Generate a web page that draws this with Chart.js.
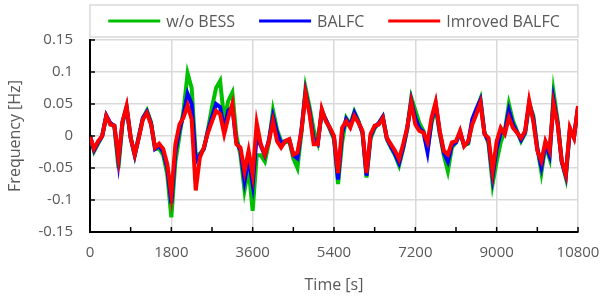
<!DOCTYPE html>
<html>
<head>
<meta charset="utf-8">
<script src="https://cdn.jsdelivr.net/npm/chart.js@4/dist/chart.umd.min.js"></script>
<style>
  html, body { margin: 0; padding: 0; background: #fff; }
  #wrap { width: 602px; height: 299px; }
</style>
</head>
<body>
<div id="wrap"><canvas id="myChart" width="602" height="299"></canvas></div>
<script>
// sampled every 90 s, 0 .. 10800 s
const step = 90;
const seriesNames = ['w/o BESS', 'BALFC', 'Imroved BALFC'];
const seriesColors = ['#00c000', '#0000ff', '#ff0000'];

const woBess = [
    0.0, -0.024, -0.012, 0.0, 0.03, 0.02, 0.014, -0.05, 0.02, 0.044,
    -0.002, -0.03, 0.0, 0.028, 0.04, 0.022, -0.02, -0.02, -0.03, -0.06,
    -0.127, -0.04, 0.0, 0.04, 0.098, 0.075, -0.03, -0.028, -0.02, 0.01,
    0.045, 0.075, 0.086, 0.025, 0.055, 0.068, 0.0, -0.03, -0.085, -0.05,
    -0.117, -0.03, -0.03, -0.04, -0.01, 0.04, 0.01, -0.008, -0.01, -0.008,
    -0.035, -0.05, 0.005, 0.075, 0.045, 0.01, -0.01, 0.036, 0.026, 0.01,
    -0.005, -0.075, -0.01, 0.028, 0.018, 0.038, 0.024, 0.004, -0.065, -0.004,
    0.012, 0.02, 0.03, -0.005, -0.018, -0.03, -0.046, -0.02, 0.01, 0.06,
    0.04, 0.02, 0.008, -0.02, 0.02, 0.045, 0.004, -0.03, -0.055, -0.018,
    -0.01, 0.004, -0.014, -0.012, 0.022, 0.04, 0.058, 0.006, -0.012, -0.075,
    -0.04, -0.01, 0.008, 0.05, 0.024, 0.008, -0.008, 0.004, 0.05, 0.032,
    -0.018, -0.057, -0.015, -0.035, 0.068, 0.024, -0.04, -0.065, 0.008, -0.002,
    0.043
];
const balfc = [
    0.0, -0.022, -0.01, 0.0, 0.032, 0.02, 0.016, -0.04, 0.022, 0.045,
    -0.003, -0.03, -0.002, 0.028, 0.038, 0.02, -0.02, -0.015, -0.025, -0.05,
    -0.105, -0.025, 0.01, 0.033, 0.066, 0.05, -0.04, -0.03, -0.02, 0.008,
    0.03, 0.05, 0.045, 0.01, 0.04, 0.045, -0.01, -0.022, -0.07, -0.035,
    -0.075, 0.0, -0.015, -0.03, -0.006, 0.03, 0.005, -0.012, -0.008, -0.006,
    -0.03, -0.035, 0.01, 0.068, 0.038, -0.005, -0.012, 0.04, 0.025, 0.012,
    -0.002, -0.068, 0.005, 0.026, 0.016, 0.036, 0.022, 0.006, -0.062, 0.0,
    0.014, 0.02, 0.03, -0.004, -0.016, -0.028, -0.042, -0.018, 0.012, 0.055,
    0.028, 0.012, 0.006, -0.025, 0.025, 0.05, 0.006, -0.026, -0.04, -0.014,
    -0.01, 0.006, -0.015, -0.01, 0.026, 0.042, 0.056, 0.004, -0.008, -0.063,
    -0.02, 0.006, 0.006, 0.04, 0.018, 0.006, -0.006, 0.006, 0.052, 0.028,
    -0.02, -0.048, -0.012, -0.03, 0.056, 0.02, -0.04, -0.062, 0.01, -0.002,
    0.045
];
const improved = [
    0.0, -0.02, -0.008, 0.0, 0.031, 0.018, 0.016, -0.035, 0.023, 0.047,
    -0.003, -0.029, -0.003, 0.026, 0.036, 0.018, -0.018, -0.012, -0.02, -0.044,
    -0.092, -0.013, 0.018, 0.029, 0.048, 0.026, -0.085, -0.034, -0.018, 0.005,
    0.023, 0.039, 0.034, 0.003, 0.029, 0.05, -0.013, -0.018, -0.055, -0.023,
    -0.06, 0.02, -0.013, -0.029, -0.008, 0.023, -0.008, -0.018, -0.008, -0.005,
    -0.029, -0.026, 0.008, 0.066, 0.034, -0.013, -0.013, 0.042, 0.023, 0.013,
    0.0, -0.058, 0.013, 0.023, 0.013, 0.031, 0.021, 0.008, -0.058, 0.003,
    0.016, 0.018, 0.028, -0.003, -0.013, -0.023, -0.036, -0.013, 0.013, 0.052,
    0.018, 0.008, 0.005, -0.01, 0.029, 0.053, 0.008, -0.023, -0.029, -0.01,
    -0.008, 0.008, -0.016, -0.008, 0.018, 0.034, 0.052, 0.003, -0.003, -0.055,
    -0.008, 0.013, 0.003, 0.029, 0.013, 0.005, -0.003, 0.008, 0.055, 0.023,
    -0.023, -0.039, -0.008, -0.023, 0.05, 0.018, -0.039, -0.06, 0.013, -0.003,
    0.047
];

const FONT = "'Open Sans', sans-serif";
const GREY = '#595959';

function toPoints(arr) {
    return arr.map((v, i) => ({ x: i * step, y: v }));
}

// frame + legend on top, like excel
const legendBox = {
    id: 'legendBox',
    afterDraw(chart) {
        const c = chart.ctx;
        const area = chart.chartArea;
        c.save();
        c.strokeStyle = '#d9d9d9';
        c.lineWidth = 1.5;
        c.strokeRect(area.left, 5, area.right - area.left, 32);

        c.font = '16px ' + FONT;
        c.textBaseline = 'middle';
        const lineLen = 52, gap = 6, space = 24;
        const ds = chart.data.datasets;
        let total = 0;
        ds.forEach((d, i) => {
            total += lineLen + gap + c.measureText(d.label).width;
            if (i < ds.length - 1) total += space;
        });
        let x = (area.left + area.right) / 2 - total / 2;
        const y = 21;
        ds.forEach(d => {
            c.strokeStyle = d.borderColor;
            c.lineWidth = 3;
            c.beginPath();
            c.moveTo(x, y);
            c.lineTo(x + lineLen, y);
            c.stroke();
            x += lineLen + gap;
            c.fillStyle = GREY;
            c.fillText(d.label, x, y + 1);
            x += c.measureText(d.label).width + space;
        });
        c.restore();
    }
};

// small tick marks inside the plot
const innerTicks = {
    id: 'innerTicks',
    afterDraw(chart) {
        const c = chart.ctx;
        const area = chart.chartArea;
        const xs = chart.scales.x, ys = chart.scales.y;
        c.save();
        c.strokeStyle = '#000';
        c.lineWidth = 1.5;
        c.beginPath();
        ys.ticks.forEach(t => {
            const py = ys.getPixelForValue(t.value);
            c.moveTo(area.left, py);
            c.lineTo(area.left + 5, py);
        });
        xs.ticks.forEach(t => {
            const px = xs.getPixelForValue(t.value);
            c.moveTo(px, area.bottom);
            c.lineTo(px, area.bottom - 5);
        });
        c.stroke();
        c.restore();
    }
};

const datasets = [woBess, balfc, improved].map((arr, i) => ({
    label: seriesNames[i],
    data: toPoints(arr),
    borderColor: seriesColors[i],
    backgroundColor: seriesColors[i],
    borderWidth: 4,
    pointRadius: 0,
    tension: 0,
    fill: false,
    order: 2 - i,
}));

const ctx = document.getElementById('myChart');
const chart = new Chart(ctx, {
    type: 'line',
    data: { datasets: datasets },
    options: {
        responsive: false,
        animation: false,
        layout: { padding: { left: 2, right: 24, top: 40, bottom: 0 } },
        plugins: {
            legend: { display: false },
            tooltip: { enabled: false },
        },
        scales: {
            x: {
                type: 'linear',
                min: 0,
                max: 10800,
                afterFit: s => {
                    s.height = 67;
                    s.paddingLeft = 0;
                    s.paddingRight = 0;
                },
                ticks: {
                    stepSize: 900,
                    autoSkip: false,
                    maxRotation: 0,
                    padding: 12,
                    color: GREY,
                    font: { family: FONT, size: 15 },
                    callback: v => (v % 1800 === 0 ? String(v) : ''),
                },
                grid: {
                    drawTicks: false,
                    lineWidth: 1.5,
                    color: c => (c.tick && c.tick.value % 1800 === 0 ? '#d9d9d9' : 'rgba(0,0,0,0)'),
                },
                border: { color: '#000', width: 2 },
                title: {
                    display: true,
                    text: 'Time [s]',
                    color: GREY,
                    font: { family: FONT, size: 16 },
                    padding: { top: 4, bottom: 4 },
                },
            },
            y: {
                min: -0.15,
                max: 0.15,
                afterFit: s => { s.width = 88; },
                ticks: {
                    stepSize: 0.05,
                    padding: 17,
                    color: GREY,
                    font: { family: FONT, size: 15 },
                    callback: v => String(+v.toFixed(2)),
                },
                grid: { drawTicks: false, lineWidth: 1.5, color: '#d9d9d9' },
                border: { color: '#000', width: 2 },
                title: {
                    display: true,
                    text: 'Frequency [Hz]',
                    color: GREY,
                    font: { family: FONT, size: 16 },
                    padding: { top: 4, bottom: 4 },
                },
            },
        },
    },
    plugins: [legendBox, innerTicks],
});
</script>
</body>
</html>
